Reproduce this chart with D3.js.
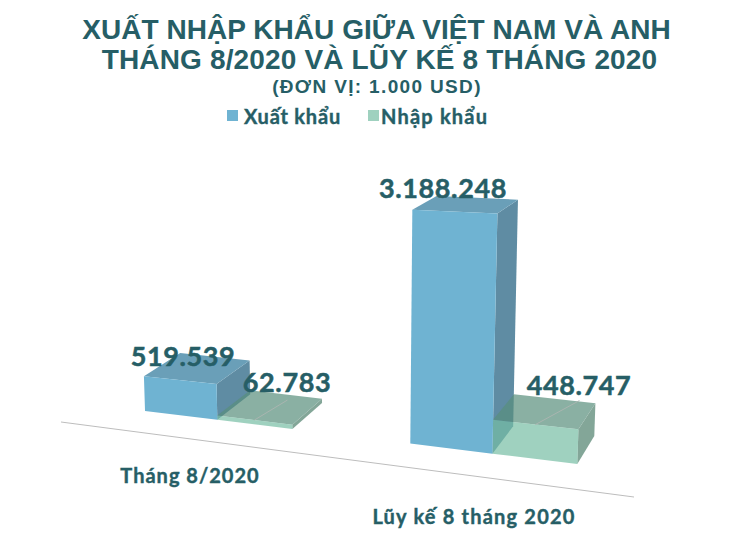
<!DOCTYPE html>
<html><head><meta charset="utf-8">
<script src="https://cdn.jsdelivr.net/npm/d3@7/dist/d3.min.js"></script>
<style>html,body{margin:0;padding:0;background:#fff}svg{display:block}</style>
</head><body><svg id="c" width="743" height="536"></svg>
<script>
const titleLines = ["XUẤT NHẬP KHẨU GIỮA VIỆT NAM VÀ ANH","THÁNG 8/2020 VÀ LŨY KẾ 8 THÁNG 2020"];
const subtitle = "(ĐƠN VỊ: 1.000 USD)";
const categories = ["Tháng 8/2020","Lũy kế 8 tháng 2020"];
const seriesNames = ["Xuất khẩu","Nhập khẩu"];
const exportValues = [519539,3188248];
const importValues = [62783,448747];
const valueLabels = [["519.539","3.188.248"],["62.783","448.747"]];

const INK="#265E66", LF='Lato, sans-serif', TF='"Liberation Sans", Arial, sans-serif';
const svg=d3.select("#c");
const cat=d3.scaleBand().domain(categories).range([0,5.5]).paddingInner(1.5/3.5);
const ser=d3.scaleBand().domain(seriesNames).range([0,cat.bandwidth()]);
const val=d3.scaleLinear().domain([0,3188248]).range([0,214]);
const warp=u=>145+70.9*u+1.4*u*u;
function project(u,v,w){
  const x0=warp(u), y0=411+0.1227*(x0-145);
  const h=val(v)*(1+(x0-145)*3.5e-4);
  const x1=x0+(x0-352)*h*1.49e-4, y1=y0-h;
  return [x1+0.0444*(960-x1)*w, y1-0.056*(y1+36)*w];
}
const styles=[
 {front:"#6FB3D2",frontOp:1,legend:"#6FB3D2",top:"#6A9FB8",side:"#5F8CA3",topOp:1},
 {front:"rgb(118,189,164)",frontOp:.7,legend:"#9FD1BF",top:"rgb(88,142,124)",side:"#83A698",topOp:.7}];
const line=d3.line();
const poly=(pts,fill,op=1)=>svg.append("path").attr("d",line(pts)+"Z").attr("fill",fill).attr("fill-opacity",op);
function faces(c,s,v){
  const a=cat(c)+ser(seriesNames[s]), b=a+ser.bandwidth(), st=styles[s];
  return {
    front:()=>poly([project(a,0,0),project(b,0,0),project(b,v,0),project(a,v,0)],st.front,st.frontOp),
    side:()=>poly([project(b,0,0),project(b,0,1),project(b,v,1),project(b,v,0)],st.side),
    top:()=>poly([project(a,v,0),project(b,v,0),project(b,v,1),project(a,v,1)],st.top,st.topOp)
  };
}
// baseline
const axisEnds=[[61,422],[634,497]];
svg.append("path").attr("d",line(axisEnds)).attr("stroke","#BDBDBD").attr("stroke-width",1).attr("fill","none");
categories.forEach((c,i)=>{
  const e=faces(c,0,exportValues[i]), m=faces(c,1,importValues[i]);
  e.side(); e.top();
  m.top(); m.side(); m.front();
  e.front();
  // leader line from the import bar's top to its label
  const mid=cat(c)+ser(seriesNames[1])+ser.bandwidth()/2;
  const p=project(mid,importValues[i],0);
  const off=[[33,-20],[44,-24]][i];
  svg.append("path").attr("d",line([p,[p[0]+off[0],p[1]+off[1]]])).attr("stroke","#A9B5B0").attr("stroke-width",1).attr("fill","none");
});
// text
const text=(t,x,y,size,fam,anchor,ls,sw=0)=>svg.append("text").text(t).attr("x",x).attr("y",y)
  .attr("font-size",size).attr("font-family",fam).attr("font-weight",700).attr("fill",INK)
  .attr("stroke",INK).attr("stroke-width",sw)
  .attr("text-anchor",anchor).attr("letter-spacing",ls);
text(titleLines[0],376.5,39,28,TF,"middle",0.05);
text(titleLines[1],379.5,69.4,28,TF,"middle",0.15);
text(subtitle,377,92.5,19,TF,"middle",1.35);
// legend
[[227,244],[368,381]].forEach(([sx,tx],i)=>{
  svg.append("rect").attr("x",sx).attr("y",110).attr("width",11).attr("height",11).attr("fill",styles[i].legend);
  text(seriesNames[i],tx,124,20,LF,"start",[0.8,1.2][i],0.4);
});
// data labels
const labelPos=[[[183,366],[443,198]],[[287,392],[579,395]]];
valueLabels.forEach((row,s)=>row.forEach((t,i)=>text(t,labelPos[s][i][0],labelPos[s][i][1],27,LF,"middle",0.6,0.5)));
// category labels
text(categories[0],190,483,20,LF,"middle",1,0.4);
text(categories[1],474,524,20,LF,"middle",1.2,0.4);
</script></body></html>
